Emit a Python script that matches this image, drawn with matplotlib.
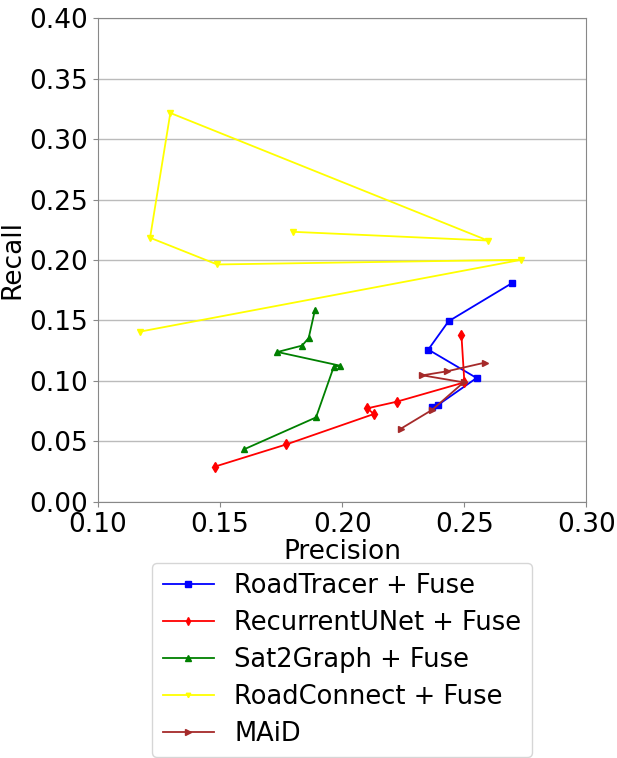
import matplotlib
matplotlib.use('Agg')
import matplotlib.pyplot as plt

# precision / recall pairs
roadtracer_p = [0.2698, 0.2436, 0.2353, 0.2551, 0.2393, 0.2368]
roadtracer_r = [0.1811, 0.1493, 0.1259, 0.1024, 0.0801, 0.0781]

recurrent_p = [0.2489, 0.2501, 0.2224, 0.2103, 0.2130, 0.1772, 0.1477]
recurrent_r = [0.1377, 0.0988, 0.0828, 0.0773, 0.0726, 0.0475, 0.0290]

sat2graph_p = [0.1889, 0.1863, 0.1836, 0.1735, 0.1991, 0.1966, 0.1893, 0.1597]
sat2graph_r = [0.1590, 0.1355, 0.1292, 0.1239, 0.1126, 0.1118, 0.0698, 0.0433]

roadconnect_p = [0.1173, 0.2735, 0.1488, 0.1213, 0.1296, 0.2597, 0.1800]
roadconnect_r = [0.1408, 0.2002, 0.1963, 0.2184, 0.3216, 0.2161, 0.2233]

maid_p = [0.2241, 0.2370, 0.2498, 0.2329, 0.2429, 0.2585]
maid_r = [0.0605, 0.0762, 0.0988, 0.1046, 0.1079, 0.1151]

fig = plt.figure(figsize=(6.17, 7.58), dpi=100)
ax = fig.add_axes([0.159, 0.338, 0.791, 0.638])

ax.plot(roadtracer_p, roadtracer_r, color='blue', marker='s', markersize=5, linewidth=1.3, label='RoadTracer + Fuse')
ax.plot(recurrent_p, recurrent_r, color='red', marker='d', markersize=5, linewidth=1.3, label='RecurrentUNet + Fuse')
ax.plot(sat2graph_p, sat2graph_r, color='green', marker='^', markersize=5, linewidth=1.3, label='Sat2Graph + Fuse')
ax.plot(roadconnect_p, roadconnect_r, color='yellow', marker='v', markersize=4, linewidth=1.3, label='RoadConnect + Fuse')
ax.plot(maid_p, maid_r, color='brown', marker='>', markersize=5, linewidth=1.3, label='MAiD')

ax.set_xlim(0.10, 0.30)
ax.set_ylim(0.0, 0.40)
ax.set_xticks([0.10, 0.15, 0.20, 0.25, 0.30])
ax.set_yticks([0.0, 0.05, 0.10, 0.15, 0.20, 0.25, 0.30, 0.35, 0.40])
ax.set_xticklabels(['0.10', '0.15', '0.20', '0.25', '0.30'])
ax.set_yticklabels(['0.00', '0.05', '0.10', '0.15', '0.20', '0.25', '0.30', '0.35', '0.40'])
ax.tick_params(labelsize=19, color='#888888')
ax.yaxis.grid(True, color='#bbbbbb', linewidth=1)
ax.set_axisbelow(True)
for s in ax.spines.values():
    s.set_color('#888888')

ax.set_xlabel('Precision', fontsize=19, labelpad=1)
ax.set_ylabel('Recall', fontsize=19, labelpad=3)

ax.legend(loc='upper left', bbox_to_anchor=(0.111, -0.127), borderaxespad=0, fontsize=18.5,
          markerscale=0.8, handlelength=2.0, handletextpad=0.8, labelspacing=0.42)

fig.savefig('out.png', dpi=100)
